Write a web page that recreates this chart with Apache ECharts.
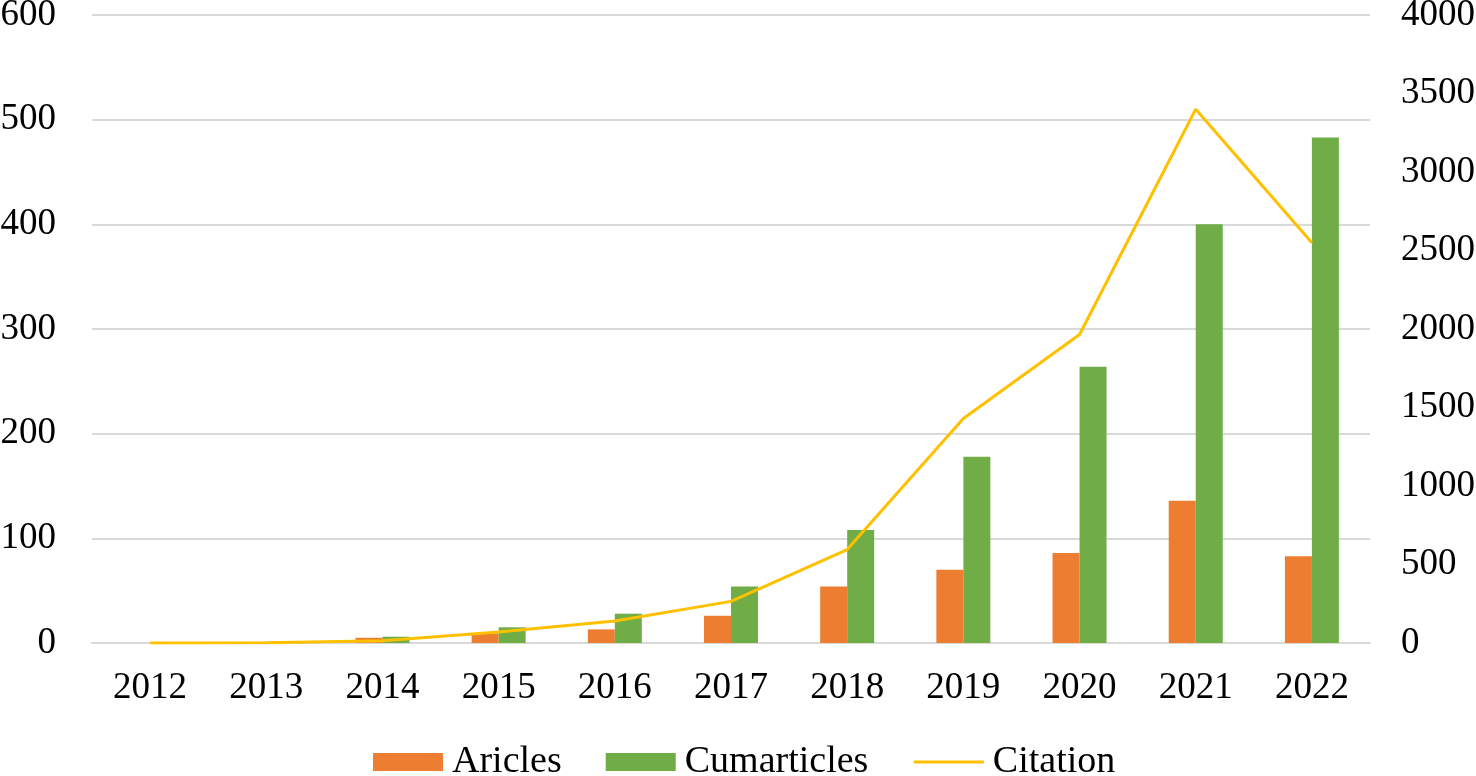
<!DOCTYPE html>
<html>
<head>
<meta charset="utf-8">
<script src="https://cdn.jsdelivr.net/npm/echarts@6/dist/echarts.min.js"></script>
<style>
  html, body { margin: 0; padding: 0; background: #fff; }
  #main { width: 1476px; height: 776px; }
</style>
</head>
<body>
<div id="main"></div>
<script>
// data
var years = ['2012', '2013', '2014', '2015', '2016', '2017', '2018', '2019', '2020', '2021', '2022'];
var articles = [0, 1, 5, 9, 13, 26, 54, 70, 86, 136, 83];
var cumArticles = [0, 1, 6, 15, 28, 54, 108, 178, 264, 400, 483];
var citations = [0, 2, 15, 70, 140, 265, 595, 1430, 1965, 3400, 2550];

var font = 'Liberation Serif';
var txt = { color: '#000', fontFamily: font, fontSize: 37 };

var chart = echarts.init(document.getElementById('main'));
chart.setOption({
    animation: false,
    grid: { left: 92, right: 106, top: 15, bottom: 133, outerBoundsMode: 'none', containLabel: false },
    legend: {
        top: 743,
        left: 373,
        padding: 0,
        itemWidth: 70,
        itemHeight: 18,
        itemGap: 44,
        textStyle: { color: '#000', fontFamily: font, fontSize: 38, padding: [0, 0, 0, 4] },
        data: [
            { name: 'Aricles', icon: 'rect' },
            { name: 'Cumarticles', icon: 'rect' },
            { name: 'Citation', itemStyle: { opacity: 0 }, lineStyle: { width: 3, color: '#ffc000' } }
        ]
    },
    xAxis: {
        type: 'category',
        data: years,
        axisLine: { lineStyle: { color: '#d9d9d9', width: 2 } },
        axisTick: { show: false },
        axisLabel: Object.assign({ margin: 27 }, txt)
    },
    yAxis: [
        {
            type: 'value',
            min: 0, max: 600, interval: 100,
            axisLine: { show: false },
            axisTick: { show: false },
            axisLabel: Object.assign({ margin: 36 }, txt),
            splitLine: { lineStyle: { color: '#d9d9d9', width: 2 } }
        },
        {
            type: 'value',
            min: 0, max: 4000, interval: 500,
            axisLine: { show: false },
            axisTick: { show: false },
            axisLabel: Object.assign({ margin: 31, formatter: function (v) { return String(v); } }, txt),
            splitLine: { show: false }
        }
    ],
    series: [
        {
            name: 'Aricles',
            type: 'bar',
            data: articles,
            barWidth: 27,
            barGap: '0%',
            itemStyle: { color: '#ed7d31' }
        },
        {
            name: 'Cumarticles',
            type: 'bar',
            data: cumArticles,
            barWidth: 27,
            itemStyle: { color: '#70ad47' }
        },
        {
            name: 'Citation',
            type: 'line',
            yAxisIndex: 1,
            data: citations,
            symbol: 'none',
            lineStyle: { color: '#ffc000', width: 3 },
            itemStyle: { color: '#ffc000' },
            z: 5
        }
    ]
});
</script>
</body>
</html>
